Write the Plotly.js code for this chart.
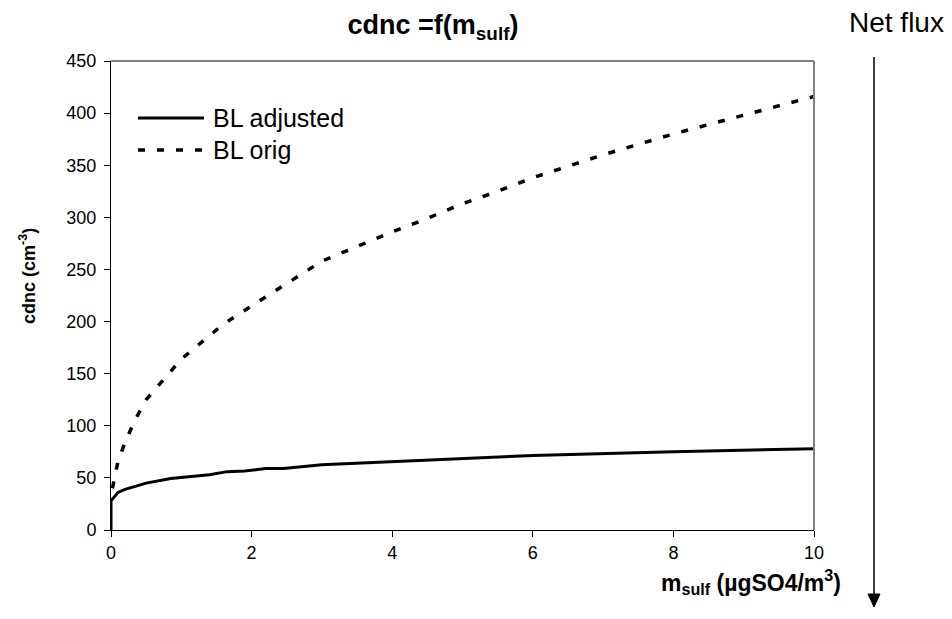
<!DOCTYPE html>
<html>
<head>
<meta charset="utf-8">
<script src="https://cdn.plot.ly/plotly-3.0.1.min.js"></script>
<style>html,body{margin:0;padding:0;background:#fff}#chart{width:952px;height:619px}</style>
</head>
<body>
<div id="chart"></div>
<script>
// Data
const adjX = [0, 0, 0.05, 0.1, 0.2, 0.5, 0.85, 1.4, 1.65, 1.9, 2.2, 2.45, 3, 4, 5, 6, 8, 10];
const adjY = [0, 28, 32, 36, 39, 45, 49.5, 53, 56, 56.5, 59, 59, 62.5, 65.5, 68.5, 71.5, 75, 78];
const origX = [0.02, 0.1, 0.2, 0.33, 0.5, 0.7, 1, 1.25, 1.5, 1.7, 2, 2.5, 3, 3.5, 4, 4.5, 5, 5.5, 6, 7, 8, 9, 10];
const origY = [40, 66, 84, 104, 125, 141, 164, 178, 192, 202, 215, 237, 258, 272, 286, 299, 313, 325, 338, 360, 380, 398, 416];
const seriesNames = ["BL adjusted", "BL orig"];
const xTicks = [0, 2, 4, 6, 8, 10];
const yTicks = [0, 50, 100, 150, 200, 250, 300, 350, 400, 450];

const FONT = "Arial, 'Liberation Sans', sans-serif";
const W = 952, H = 619, L = 111, R = 138, T = 61, B = 89;
const pw = W - L - R, ph = H - T - B;
const px = v => (v - L) / pw;          // pixel x -> paper x
const py = v => (H - B - v) / ph;      // pixel y -> paper y

const traces = [
  {x: adjX, y: adjY, mode: "lines", name: seriesNames[0], line: {color: "#000", width: 3}, showlegend: false, hoverinfo: "skip"},
  {x: origX, y: origY, mode: "lines", name: seriesNames[1], line: {color: "#000", width: 3.5, dash: "7px,12px"}, showlegend: false, hoverinfo: "skip"}
];

const layout = {
  width: W, height: H,
  margin: {l: L, r: R, t: T, b: B, pad: 0},
  paper_bgcolor: "#fff", plot_bgcolor: "#fff",
  font: {family: FONT, color: "#000", size: 18},
  title: {text: "<b>cdnc =f(m<sub>sulf</sub>)</b>", font: {size: 27, family: FONT}, x: px(433), xref: "paper", xanchor: "center", y: 1 - 25/H, yanchor: "middle"},
  xaxis: {range: [0, 10], tickvals: xTicks, ticktext: xTicks.map(String), showgrid: false, zeroline: false,
          showline: true, linecolor: "#000", linewidth: 1, ticks: "outside", ticklen: 6, tickcolor: "#000",
          tickfont: {size: 18}, fixedrange: true},
  yaxis: {range: [0, 450], tickvals: yTicks, ticktext: yTicks.map(String), showgrid: false, zeroline: false,
          showline: true, linecolor: "#000", linewidth: 1, ticks: "outside", ticklen: 6, tickcolor: "#000",
          tickfont: {size: 18}, ticklabelstandoff: 4, fixedrange: true},
  shapes: [
    {type: "line", xref: "paper", yref: "paper", x0: 0, x1: 1, y0: 1, y1: 1, line: {color: "#808080", width: 2}},
    {type: "line", xref: "paper", yref: "paper", x0: 1, x1: 1, y0: 0, y1: 1, line: {color: "#808080", width: 2}},
    // legend samples
    {type: "line", xref: "paper", yref: "paper", x0: px(138), x1: px(204), y0: py(118), y1: py(118), line: {color: "#000", width: 3}},
    {type: "line", xref: "paper", yref: "paper", x0: px(138), x1: px(207), y0: py(150), y1: py(150), line: {color: "#000", width: 3.5, dash: "7px,12px"}},
    // Net flux arrow
    {type: "line", xref: "paper", yref: "paper", x0: px(874), x1: px(874), y0: py(57), y1: py(596), line: {color: "#000", width: 1.5}},
    {type: "path", xref: "paper", yref: "paper",
     path: `M ${px(868)} ${py(594)} L ${px(880)} ${py(594)} L ${px(874)} ${py(607)} Z`,
     fillcolor: "#000", line: {color: "#000", width: 1}}
  ],
  annotations: [
    {text: seriesNames[0], xref: "paper", yref: "paper", x: px(211), y: py(118), xanchor: "left", yanchor: "middle", showarrow: false, font: {size: 25, family: FONT}},
    {text: seriesNames[1], xref: "paper", yref: "paper", x: px(211), y: py(150), xanchor: "left", yanchor: "middle", showarrow: false, font: {size: 25, family: FONT}},
    {text: "Net flux", xref: "paper", yref: "paper", x: px(896), y: py(22), xanchor: "center", yanchor: "middle", showarrow: false, font: {size: 28, family: FONT}},
    {text: "<b>m<sub>sulf</sub> (µgSO4/m<sup>3</sup>)</b>", xref: "paper", yref: "paper", x: px(751), y: py(582), xanchor: "center", yanchor: "middle", showarrow: false, font: {size: 23, family: FONT}},
    {text: "<b>cdnc (cm<sup>-3</sup>)</b>", xref: "paper", yref: "paper", x: px(27), y: py(276), xanchor: "center", yanchor: "middle", textangle: -90, showarrow: false, font: {size: 18, family: FONT}}
  ]
};

Plotly.newPlot("chart", traces, layout, {staticPlot: true, displayModeBar: false});
</script>
</body>
</html>
